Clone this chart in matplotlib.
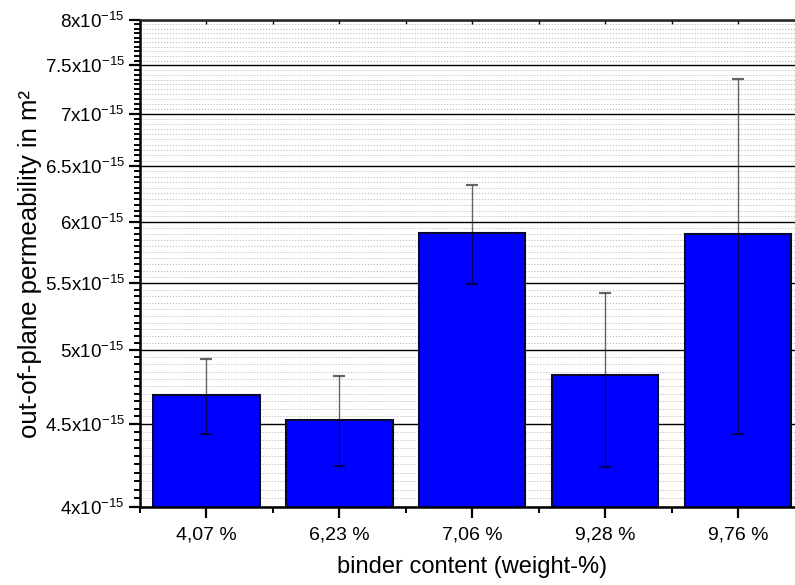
import matplotlib
matplotlib.use("Agg")
import matplotlib.pyplot as plt
import numpy as np
from matplotlib.ticker import FixedLocator, FixedFormatter, NullFormatter

plt.rcParams['font.family'] = ['Liberation Sans', 'DejaVu Sans']
plt.rcParams['mathtext.fontset'] = 'custom'
plt.rcParams['mathtext.rm'] = 'Liberation Sans'
plt.rcParams['mathtext.it'] = 'Liberation Sans'

categories = ['4,07 %', '6,23 %', '7,06 %', '9,28 %', '9,76 %']
values = [4.69e-15, 4.53e-15, 5.91e-15, 4.83e-15, 5.90e-15]
errors = [0.25e-15, 0.29e-15, 0.416e-15, 0.595e-15, 1.46e-15]
ytick_vals = [4.0, 4.5, 5.0, 5.5, 6.0, 6.5, 7.0, 7.5, 8.0]
ytick_labels = [r'$\mathregular{4x10^{-15}}$', r'$\mathregular{4.5x10^{-15}}$',
                r'$\mathregular{5x10^{-15}}$', r'$\mathregular{5.5x10^{-15}}$',
                r'$\mathregular{6x10^{-15}}$', r'$\mathregular{6.5x10^{-15}}$',
                r'$\mathregular{7x10^{-15}}$', r'$\mathregular{7.5x10^{-15}}$',
                r'$\mathregular{8x10^{-15}}$']

fig = plt.figure(figsize=(7.95, 5.85), dpi=100)
ax = fig.add_axes([140/795, 78/585, 664.5/795, 487/585])

x = np.arange(1, len(categories) + 1)
ax.bar(x, values, width=0.8, color='#0000FF', edgecolor='#0a0a30', linewidth=1.5, zorder=2)
ax.errorbar(x, values, yerr=errors, fmt='none', ecolor='black', elinewidth=1.0,
            capsize=4.5, capthick=1.6, alpha=0.6, zorder=3)

ax.set_yscale('log')
ax.set_ylim(4e-15, 8e-15)
ax.set_xlim(0.5, 5.5)

yt = [v * 1e-15 for v in ytick_vals]
ax.yaxis.set_major_locator(FixedLocator(yt))
ax.yaxis.set_major_formatter(FixedFormatter(ytick_labels))
minor = [v * 1e-15 for v in np.arange(4.0, 8.0001, 0.05)]
ax.yaxis.set_minor_locator(FixedLocator(minor))
ax.yaxis.set_minor_formatter(NullFormatter())

ax.set_xticks(x)
ax.set_xticklabels(categories)
ax.set_xticks(np.arange(0.5, 5.6, 1.0), minor=True)

ax.tick_params(axis='y', which='major', direction='out', length=8, width=1.6, labelsize=13.5, pad=3)
ax.tick_params(axis='y', which='minor', direction='out', length=4, width=1.4)
ax.tick_params(axis='x', which='major', direction='out', length=8, width=1.6, labelsize=14, pad=6,
               top=True)
ax.tick_params(axis='x', which='minor', direction='out', length=4.5, width=1.4, top=True)
# top ticks inward, small
for t in ax.xaxis.get_major_ticks() + ax.xaxis.get_minor_ticks():
    t.tick2line.set_marker(3)  # TICKDOWN
    t.tick2line.set_markersize(3)
    t.tick2line.set_markeredgewidth(1.0)

ax.set_axisbelow(True)
ax.yaxis.grid(True, which='major', color='black', linewidth=1.0, linestyle='-')
ax.yaxis.grid(True, which='minor', color='#b4b4b4', linewidth=0.6, linestyle=(0, (1.5, 2.0)))
ax.xaxis.grid(False)

for s in ['left', 'bottom', 'top']:
    ax.spines[s].set_linewidth(1.8)
    ax.spines[s].set_color('black')
ax.spines['top'].set_color('#222222')
ax.spines['right'].set_visible(True)

ax.set_xlabel('binder content (weight-%)', fontsize=17, labelpad=9)
ax.set_ylabel('out-of-plane permeability in m²', fontsize=18.5)
ax.yaxis.set_label_coords(-0.1475, 0.5)

fig.savefig('out.png', dpi=100)
